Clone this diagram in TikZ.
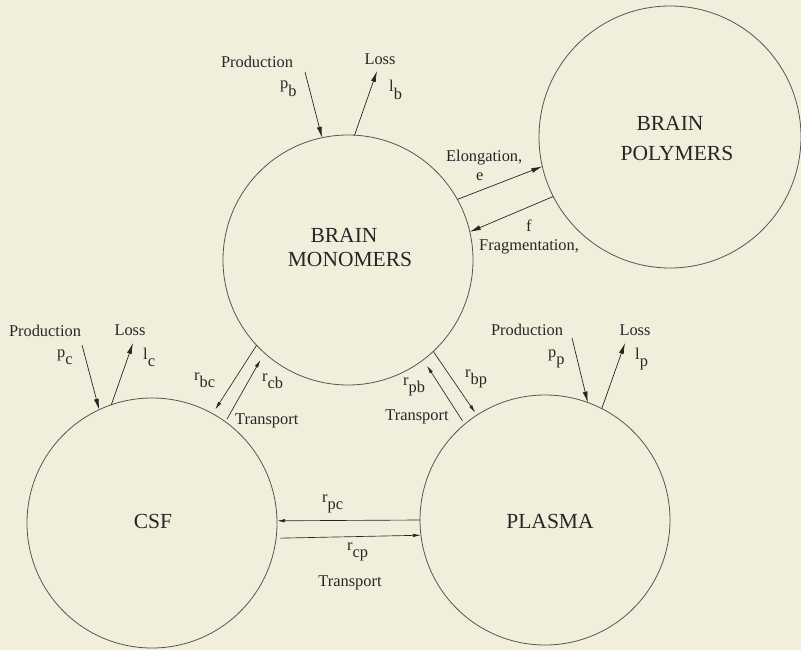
\documentclass[tikz,border=0pt]{standalone}
\usepackage{fontspec}
\setmainfont{Liberation Serif}
\usetikzlibrary{arrows.meta}
\definecolor{bg}{HTML}{F1EFDC}
\definecolor{ink}{HTML}{262626}
\definecolor{edge}{HTML}{555553}
\newcommand{\sbs}[2]{#1\raisebox{-0.48em}{#2}}
\begin{document}
\begin{tikzpicture}[x=1pt,y=-1pt,
  comp/.style={circle,draw=edge,line width=0.8pt,minimum size=250pt,inner sep=0pt,outer sep=0pt},
  big/.style={font=\fontsize{21.5}{24}\selectfont,text=ink,inner sep=0pt},
  small/.style={font=\fontsize{16.4}{18}\selectfont,text=ink,inner sep=0pt},
  flow/.style={draw=ink,line width=0.7pt,-{Latex[length=11pt,width=5pt]}},
  tflow/.style={draw=ink,line width=0.65pt,-{Latex[length=8pt,width=3.5pt]}},
]
\fill[bg] (0,0) rectangle (801,650);
\useasboundingbox (0,0) rectangle (801,650);
\clip (0,0) rectangle (801,650);

% compartments
\node[comp] (bm) at (348,260) {};
\node[comp,minimum size=262pt] (bp) at (670,137) {};
\node[comp] (csf) at (152,523) {};
\node[comp] (pl) at (545,520) {};

% compartment names
\node[big,anchor=base] (bmt1) at (344,242) {BRAIN};
\node[big,anchor=base] (bmt2) at (350,266) {MONOMERS};
\node[big,anchor=base] (bpt1) at (670,131) {BRAIN};
\node[big,anchor=base] (bpt2) at (677,161) {POLYMERS};
\node[big,anchor=base] (csft) at (153,528) {CSF};
\node[big,anchor=base] (plt) at (550,528) {PLASMA};

% labels
\node[small,anchor=base] (prodb) at (257,68) {Production};
\node[small,anchor=base west] (pb) at (280,89) {\sbs{p}{b}};
\node[small,anchor=base] (lossb) at (380,65) {Loss};
\node[small,anchor=base west] (lb) at (389,92) {\sbs{l}{b}};
\node[small,anchor=base west] (elong) at (446,162) {Elongation,};
\node[small,anchor=base west] (e) at (476,181) {e};
\node[small,anchor=base west] (f) at (526,231) {f};
\node[small,anchor=base west] (frag) at (479,250) {Fragmentation,};
\node[small,anchor=base] (prodc) at (45,336) {Production};
\node[small,anchor=base west] (pc) at (57,357) {\sbs{p}{c}};
\node[small,anchor=base] (lossc) at (130,335) {Loss};
\node[small,anchor=base west] (lc) at (143,359) {\sbs{l}{c}};
\node[small,anchor=base west] (rbc) at (194,380) {\sbs{r}{bc}};
\node[small,anchor=base west] (rcb) at (262,381) {\sbs{r}{cb}};
\node[small,anchor=base west] (tbc) at (235,424) {Transport};
\node[small,anchor=base west] (rpb) at (403,385) {\sbs{r}{pb}};
\node[small,anchor=base west] (rbp) at (465,377) {\sbs{r}{bp}};
\node[small,anchor=base] (tpb) at (417,420) {Transport};
\node[small,anchor=base] (prodp) at (527,335) {Production};
\node[small,anchor=base west] (pp) at (548,357) {\sbs{p}{p}};
\node[small,anchor=base] (lossp) at (635,335) {Loss};
\node[small,anchor=base west] (lp) at (635,359) {\sbs{l}{p}};
\node[small,anchor=base west] (rpc) at (322,502) {\sbs{r}{pc}};
\node[small,anchor=base west] (rcp) at (347,550) {\sbs{r}{cp}};
\node[small,anchor=base] (tcp) at (350,586) {Transport};

% free ends
\coordinate (pbs) at (305,72);
\coordinate (lbe) at (377,71);
\coordinate (pcs) at (82,345);
\coordinate (lce) at (133,343);
\coordinate (pps) at (572,338);
\coordinate (lpe) at (625,343);

% production / loss
\draw[flow] (pbs) -- (bm.102.2);
\draw[flow] (bm.87.3) -- (lbe);
\draw[flow] (pcs) -- (csf.115.1);
\draw[flow] (csf.109.9) -- (lce);
\draw[flow] (pps) -- (pl.70.3);
\draw[flow] (pl.63) -- (lpe);

% elongation / fragmentation
\draw[flow] (bm.29.7) -- (bp.193.5);
\draw[flow] (bp.207.1) -- (bm.13.6);

% transport
\draw[tflow,shorten >=5pt] (bm.223.4) -- (csf.61);
\draw[tflow,shorten <=3pt,shorten >=8pt] (csf.54.5) -- (bm.228.5);
\draw[tflow,shorten <=4pt,shorten >=7pt] (pl.130) -- (bm.307.5);
\draw[tflow,shorten >=3pt] (bm.313.4) -- (pl.123.2);
\draw[tflow] (pl.180) -- (csf.1.4);
\draw[tflow,shorten <=4pt] (csf.353.6) -- (pl.187.8);
\end{tikzpicture}
\end{document}
